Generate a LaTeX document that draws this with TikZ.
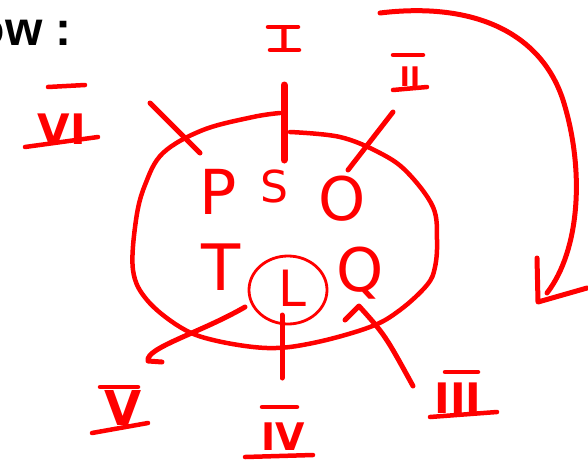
\documentclass[tikz,border=0pt]{standalone}
\usepackage{fontspec}
\setmainfont{DejaVu Sans}
\newfontfamily\headfont{Liberation Sans}
\definecolor{ink}{RGB}{255,0,0}
\begin{document}
\begin{tikzpicture}[x=1pt,y=-1pt,
  stroke/.style={draw=ink, line width=5pt, line cap=round, line join=round},
  ring/.style={draw=ink, line width=4.5pt, line cap=round, line join=round},
  thinring/.style={draw=ink, line width=2.8pt},
  bar/.style={draw=ink, line width=4.5pt, line cap=round},
  letter/.style={text=ink, inner sep=0pt, font=\fontsize{62}{62}\selectfont},
  numeral/.style={text=ink, inner sep=0pt}]
\useasboundingbox (0,0) rectangle (588,463);

% heading fragment
\node[anchor=base east, inner sep=0pt, font=\headfont\bfseries\fontsize{48}{48}\selectfont] (head) at (72,45) {ow :};

% letters
\node[letter] (P) at (218,192) {P};
\node[letter, font=\fontsize{44}{44}\selectfont] (S) at (274,186) {S};
\node[letter, font=\fontsize{60}{60}\selectfont] (O) at (342,199) {O};
\node[letter, font=\fontsize{64}{64}\selectfont] (T) at (221,267) {T};
\node[letter, font=\fontsize{50}{50}\selectfont] (L) at (292,288) {L};
\node[letter, font=\fontsize{60}{60}\selectfont] (Q) at (360,273) {Q};

% circle around L
\draw[thinring] (L.center) ++(-4pt,-2pt) ellipse [x radius=39pt, y radius=34pt];

% the big ring
\draw[ring] plot[smooth, tension=0.6] coordinates {(290,132) (340,137) (380,153) (407,172) (433,207) (437,240) (435,267) (427,285) (400,310) (370,327) (313,343) (267,348) (213,340) (180,327) (147,300) (133,270) (136,220) (145,185) (163,153) (203,130) (253,117) (280,113)};

% numerals
\node[numeral, font=\bfseries\fontsize{28}{28}\selectfont] (n1) at (284,38) {I};
\draw[bar] ([shift={(-16,-11)}]n1.center) -- ([shift={(14,-11)}]n1.center);
\draw[bar] ([shift={(-14,12)}]n1.center) -- ([shift={(15,12)}]n1.center);

\node[numeral, font=\bfseries\fontsize{27}{27}\selectfont] (n2) at (410,77) {II};
\draw[bar] ([shift={(-17,-22)}]n2.center) -- ([shift={(13,-22)}]n2.center);
\draw[bar] ([shift={(-17,13)}]n2.center) -- ([shift={(17,10)}]n2.center);

\node[numeral, font=\bfseries\fontsize{42}{42}\selectfont] (n3) at (458,398) {III};
\draw[bar] ([shift={(-13,-26)}]n3.center) -- ([shift={(20,-26)}]n3.center);
\draw[bar] ([shift={(-28,19)}]n3.center) -- ([shift={(39,14)}]n3.center);

\node[numeral, font=\bfseries\fontsize{38}{38}\selectfont] (n4) at (283,437) {IV};
\draw[bar] ([shift={(-21,-30)}]n4.center) -- ([shift={(14,-30)}]n4.center);
\draw[bar] ([shift={(-38,20)}]n4.center) -- ([shift={(30,18)}]n4.center);

\node[numeral, font=\bfseries\fontsize{48}{48}\selectfont] (n5) at (123,408) {V};
\draw[bar] ([shift={(-23,-21)}]n5.center) -- ([shift={(15,-21)}]n5.center);
\draw[bar] ([shift={(-31,25)}]n5.center) -- ([shift={(25,15)}]n5.center);

\node[numeral, font=\bfseries\fontsize{42}{42}\selectfont] (n6) at (62,129) {VI};
\draw[bar] ([shift={(-14,-42)}]n6.center) -- ([shift={(23,-44)}]n6.center);
\draw[bar] ([shift={(-37,18)}]n6.center) -- ([shift={(36,8)}]n6.center);

% pointer strokes
\coordinate (a1) at (284,85);  \coordinate (b1) at (284,160);
\coordinate (a6) at (150,103); \coordinate (b6) at (200,153);
\coordinate (a2) at (393,112); \coordinate (b2) at (348,170);
\coordinate (a5) at (245,307); \coordinate (b5) at (148,361); \coordinate (c5) at (162,362);
\coordinate (a4) at (282,315); \coordinate (b4) at (282,378);
\coordinate (a3) at (413,386); \coordinate (b3) at (359,306); \coordinate (c3) at (345,320);

\draw[stroke, line width=7pt] (a1) -- (b1);
\draw[stroke] (a6) -- (b6);
\draw[stroke] (a2) -- (b2);
\draw[stroke] (a5) .. controls (200,333) and (145,348) .. (b5) -- (c5);
\draw[stroke] (a4) -- (b4);
\draw[stroke] (c3) -- (b3) .. controls (385,335) .. (a3);

% big curved arrow
\coordinate (s0) at (380,13);
\coordinate (s1) at (563,100);
\coordinate (s2) at (547,293);
\coordinate (h1) at (537,258);
\coordinate (h2) at (538,302);
\coordinate (h3) at (587,288);
\draw[stroke] (s0) .. controls (470,2) and (540,30) .. (s1) .. controls (585,170) and (580,250) .. (s2);
\draw[stroke] (h1) -- (h2) -- (h3);
\end{tikzpicture}
\end{document}
